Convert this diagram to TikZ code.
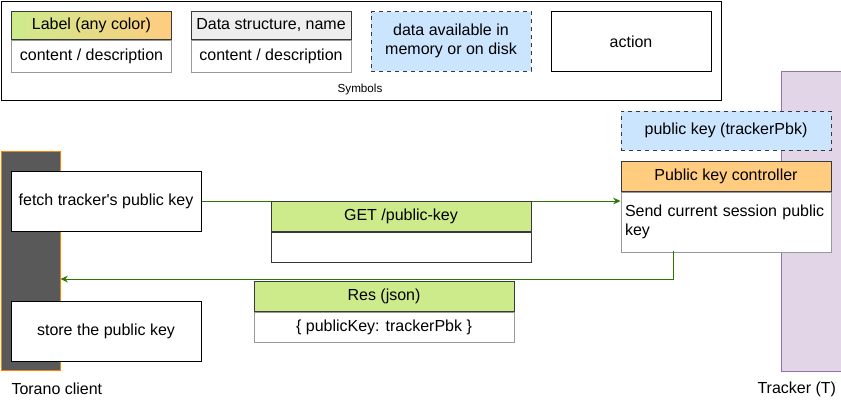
\documentclass[tikz,border=0pt]{standalone}
\usepackage{fontspec}
\setmainfont{Liberation Sans}
\usetikzlibrary{arrows.meta,positioning}
\definecolor{hdrgreen}{HTML}{CDEB8B}
\definecolor{hdrorange}{HTML}{FFCC80}
\definecolor{hdrgray}{HTML}{EEEEEE}
\definecolor{memblue}{HTML}{CCE5FF}
\definecolor{edgedark}{HTML}{36393D}
\definecolor{edgegray}{HTML}{999999}
\definecolor{flowgreen}{HTML}{2D7600}
\definecolor{lanedark}{HTML}{595959}
\definecolor{laneorange}{HTML}{FF8000}
\definecolor{lanepurple}{HTML}{E1D5E7}
\definecolor{purpleedge}{HTML}{9673A6}
\begin{document}
\begin{tikzpicture}[x=0.75pt,y=-0.75pt,
  every node/.style={font=\fontsize{12}{14.25}\selectfont,inner sep=0pt,line width=0.75pt},
  hdr/.style={draw=edgedark,anchor=north west,minimum height=22.5pt},
  bodybox/.style={draw=edgegray,fill=white,anchor=north,minimum height=22.5pt},
  action/.style={draw=black,fill=white,anchor=north west,minimum width=142.5pt,minimum height=45pt},
  memory/.style={draw=edgedark,dashed,fill=memblue,anchor=north west,align=center},
  flow/.style={draw=flowgreen,line width=0.75pt,-{Stealth[length=5.5pt,width=5pt]}}]
  \useasboundingbox (0,0) rectangle (841,401);
  %\draw (0,0) rectangle (841,401);
  % symbols
  \node [draw,line width=1pt,anchor=north west,minimum width=540pt,minimum height=74.25pt] (symbols) at (1,1) {};
  \node [font=\fontsize{8.75}{10}\selectfont] (symtitle) at (360,89) {Symbols};
  \node [hdr,left color=hdrgreen,right color=hdrorange,minimum width=120pt,minimum height=20.7pt] (labelh) at (11,11) {Label (any color)};
  \node [bodybox,minimum width=120pt,minimum height=24pt] (labelb) at (labelh.south) {content / description};
  \node [hdr,fill=hdrgray,minimum width=120pt,minimum height=20.7pt] (structh) at (190.5,11) {Data structure, name};
  \node [bodybox,minimum width=120pt,minimum height=24pt] (structb) at (structh.south) {content / description};
  \node [memory,minimum width=120pt,minimum height=44.7pt] (memkey) at (370.5,11) {data available in\\memory or on disk};
  \node [action,minimum width=120pt,minimum height=44.7pt] (actkey) at (550.5,11) {action};
  % lanes
  \node [draw=laneorange,fill=lanedark,anchor=north west,minimum width=44.25pt,minimum height=164.25pt] (torano) at (0.5,150.5) {};
  \node [anchor=west] (toranolbl) at (11,389) {Torano client};
  \node [draw=purpleedge,fill=lanepurple,anchor=north west,minimum width=45pt,minimum height=225pt] (tracker) at (780.5,70.5) {};
  \node [anchor=west] (trackerlbl) at (757,389) {Tracker (T)};
  % client actions
  \node [action] (fetch) at (10.5,170.5) {fetch tracker\textquotesingle s public key};
  \node [action] (store) at (10.5,300.5) {store the public key};
  % tracker side
  \node [memory,minimum width=157.5pt,minimum height=29.5pt] (pbk) at (620.5,110.5) {public key (trackerPbk)};
  \node [hdr,fill=hdrorange,minimum width=157.5pt] (ctrlh) at (620.5,160.5) {Public key controller};
  \node [bodybox,minimum width=157.5pt,minimum height=45pt,inner xsep=3pt,text width=151.5pt,align=left] (ctrlb) at (ctrlh.south) {Send current session public\\key};
  % requests
  \coordinate (tap) at (673,250.5);
  \coordinate (back) at (60.5,279);
  \draw [flow] (fetch.east) -- (fetch.east -| ctrlb.west);
  \draw [flow] (tap) |- (back);
  \node [hdr,fill=hdrgreen,minimum width=195pt] (geth) at (270.5,200.5) {GET /public-key};
  \node [bodybox,draw=edgedark,minimum width=195pt] (getb) at (geth.south) {};
  \node [hdr,fill=hdrgreen,minimum width=195pt] (resh) at (253.5,280.5) {Res (json)};
  \node [bodybox,minimum width=195pt] (resb) at (resh.south) {\{ publicKey: trackerPbk \}};
\end{tikzpicture}
\end{document}
